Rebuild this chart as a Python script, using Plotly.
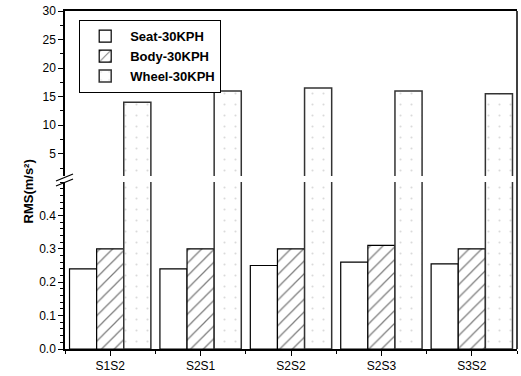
import plotly.graph_objects as go

# Data
categories = ["S1S2", "S2S1", "S2S2", "S2S3", "S3S2"]
seat = [0.24, 0.24, 0.25, 0.26, 0.255]
body = [0.30, 0.30, 0.30, 0.31, 0.30]
wheel = [14.0, 16.0, 16.5, 16.0, 15.5]
series_names = ["Seat-30KPH", "Body-30KPH", "Wheel-30KPH"]
lower_ticks = [0.0, 0.1, 0.2, 0.3, 0.4]
upper_ticks = [5, 10, 15, 20, 25, 30]

xpos = list(range(len(categories)))

styles = [
    dict(color="white", line=dict(color="black", width=1.2)),
    dict(color="white", line=dict(color="black", width=1.2),
         pattern=dict(shape="/", fgcolor="black", bgcolor="white", size=9, solidity=0.14)),
    dict(color="white", line=dict(color="#333333", width=1.5),
         pattern=dict(shape=".", fgcolor="#b5b5b5", bgcolor="white", size=11, solidity=0.03)),
]
values = [seat, body, wheel]

fig = go.Figure()
for name, vals, st in zip(series_names, values, styles):
    # lower panel (0 - 0.5)
    fig.add_trace(go.Bar(x=xpos, y=vals, name=name, marker=st,
                         xaxis="x", yaxis="y", showlegend=True))
for name, vals, st in zip(series_names, values, styles):
    # upper panel (broken axis, 1 - 30)
    fig.add_trace(go.Bar(x=xpos, y=vals, name=name, marker=st,
                         xaxis="x2", yaxis="y2", showlegend=False))

W, H = 521, 376
ml, mr, mt, mb = 65, 4, 11, 27
pw, ph = W - ml - mr, H - mt - mb

def px_x(px):
    return (px - ml) / pw

def px_y(py):
    return (H - mb - py) / ph

font = dict(family="Liberation Sans, Arial, sans-serif", size=12, color="black")

axis_common = dict(showgrid=False, zeroline=False, showline=True, linecolor="black",
                   linewidth=1.5, ticks="outside", tickcolor="black", tickwidth=1.2)

fig.update_layout(
    width=W, height=H,
    margin=dict(l=ml, r=mr, t=mt, b=mb),
    paper_bgcolor="white", plot_bgcolor="white",
    font=font,
    barmode="group", bargap=0.1, bargroupgap=0.0,
    xaxis=dict(**axis_common, range=[-0.5, 4.5], tickvals=xpos, ticktext=categories,
               ticklen=5, anchor="y",
               minor=dict(ticks="outside", tick0=0.5, dtick=1, ticklen=3,
                          tickcolor="black", tickwidth=1.2)),
    xaxis2=dict(showgrid=False, zeroline=False, showline=True, linecolor="black",
                linewidth=1.5, side="top", anchor="y2", matches="x",
                showticklabels=False, ticks=""),
    yaxis=dict(**axis_common, domain=[0, px_y(182)], range=[0, 0.5],
               tickvals=lower_ticks, ticktext=[f"{v:.1f}" for v in lower_ticks],
               ticklen=5,
               minor=dict(ticks="outside", tick0=0, dtick=0.02, ticklen=3,
                          tickcolor="black", tickwidth=1)),
    yaxis2=dict(**axis_common, domain=[px_y(176), 1], range=[1.1, 30],
                tickvals=upper_ticks, ticklen=5, anchor="x2",
                minor=dict(ticks="outside", tick0=0, dtick=2.5, ticklen=3,
                           tickcolor="black", tickwidth=1)),
    legend=dict(x=px_x(79), y=px_y(20), xanchor="left", yanchor="top",
                bordercolor="black", borderwidth=1.2, bgcolor="white",
                font=dict(family="Liberation Sans, Arial, sans-serif", size=13,
                          color="black", weight="bold"),
                itemwidth=40, tracegroupgap=0),
)

# right frame border, continuous across the break
fig.add_shape(type="line", xref="paper", yref="paper", x0=1, x1=1, y0=0, y1=1,
              line=dict(color="black", width=1.5))

# axis break marks
for dy in (0, 5):
    fig.add_shape(type="line", xref="paper", yref="paper",
                  x0=px_x(56), y0=px_y(181 + dy), x1=px_x(73), y1=px_y(174 + dy),
                  line=dict(color="black", width=1.3))

fig.add_annotation(text="RMS(m/s²)", textangle=-90,
                   xref="paper", yref="paper", x=px_x(18), y=px_y(192),
                   showarrow=False, font=dict(family="Liberation Sans, Arial, sans-serif",
                                               size=13, color="black", weight="bold"))

fig.write_html("out.html")
